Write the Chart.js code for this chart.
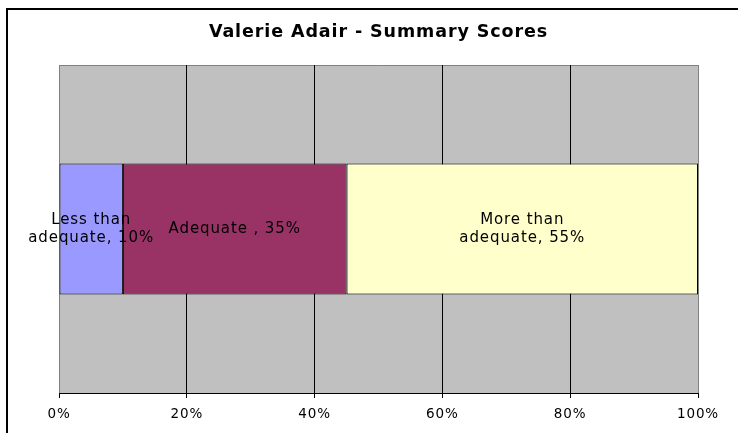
<!DOCTYPE html>
<html>
<head>
<meta charset="utf-8">
<script src="https://cdn.jsdelivr.net/npm/chart.js@4/dist/chart.umd.min.js"></script>
<style>
  html, body { margin: 0; padding: 0; background: #fff; }
  #wrap { position: relative; width: 738px; height: 433px; }
</style>
</head>
<body>
<div id="wrap"><canvas id="summaryChart" width="738" height="433"></canvas></div>
<script>
// chart data
var categories = ['Valerie Adair'];
var seriesNames = ['Less than\nadequate', 'Adequate ', 'More than\nadequate'];
var seriesValues = [10, 35, 55];
var seriesColors = ['#9999FF', '#993366', '#FFFFCC'];
var tickValues = [0, 20, 40, 60, 80, 100];

var datasets = seriesNames.map(function (name, i) {
    return {
        label: name,
        data: [seriesValues[i]],
        backgroundColor: seriesColors[i],
        borderColor: '#000000',
        borderWidth: 1,
        borderSkipped: false,
        categoryPercentage: 1.0,
        barPercentage: 0.4
    };
});

// grey plot background, outer frame and slightly wider letter spacing like the original
var plotBackground = {
    id: 'plotBackground',
    beforeDraw: function (chart) {
        var ctx = chart.ctx;
        var a = chart.chartArea;
        ctx.letterSpacing = '0.9px';
        ctx.save();
        ctx.fillStyle = '#000000';
        ctx.fillRect(6, 8, 2, 425);
        ctx.fillRect(6, 8, 732, 2);
        ctx.fillStyle = '#C0C0C0';
        ctx.fillRect(a.left, a.top, a.right - a.left, a.bottom - a.top);
        ctx.strokeStyle = '#808080';
        ctx.lineWidth = 1;
        ctx.beginPath();
        ctx.moveTo(a.left, a.top + 0.5);
        ctx.lineTo(a.right, a.top + 0.5);
        ctx.stroke();
        ctx.restore();
    }
};

// text inside each bar segment: "name, value%"
var segmentLabels = {
    id: 'segmentLabels',
    afterDatasetsDraw: function (chart) {
        var ctx = chart.ctx;
        ctx.save();
        ctx.font = '15px "DejaVu Sans"';
        ctx.fillStyle = '#000000';
        ctx.textAlign = 'center';
        ctx.textBaseline = 'middle';
        chart.data.datasets.forEach(function (ds, i) {
            var bar = chart.getDatasetMeta(i).data[0];
            var cx = (bar.x + bar.base) / 2;
            var lines = (seriesNames[i] + ', ' + seriesValues[i] + '%').split('\n');
            var lineH = 18;
            var y0 = bar.y - (lines.length - 1) * lineH / 2;
            lines.forEach(function (line, k) {
                ctx.fillText(line, cx, y0 + k * lineH);
            });
        });
        ctx.restore();
    }
};

var ctx = document.getElementById('summaryChart').getContext('2d');
var summaryChart = new Chart(ctx, {
    type: 'bar',
    data: {
        labels: categories,
        datasets: datasets
    },
    options: {
        indexAxis: 'y',
        responsive: false,
        animation: false,
        layout: {
            padding: { left: 59, right: 40, top: 0, bottom: 0 }
        },
        plugins: {
            legend: { display: false },
            tooltip: { enabled: false },
            title: {
                display: true,
                text: 'Valerie Adair - Summary Scores',
                color: '#000000',
                font: { family: 'DejaVu Sans', size: 17.5, weight: 'bold', lineHeight: 1.2 },
                padding: { top: 22, bottom: 22 }
            }
        },
        scales: {
            x: {
                type: 'linear',
                stacked: true,
                min: 0,
                max: 100,
                afterBuildTicks: function (scale) {
                    scale.ticks = tickValues.map(function (v) { return { value: v }; });
                },
                afterFit: function (scale) {
                    scale.height = 40;
                },
                ticks: {
                    color: '#000000',
                    font: { family: 'DejaVu Sans', size: 13.5 },
                    padding: 8,
                    maxRotation: 0,
                    callback: function (v) { return v + '%'; }
                },
                grid: {
                    color: function (c) {
                        return (c.index === 0 || c.index === tickValues.length - 1) ? '#808080' : '#000000';
                    },
                    tickColor: '#000000',
                    tickLength: 5,
                    lineWidth: 1
                },
                border: { display: true, color: '#000000', width: 1 }
            },
            y: {
                stacked: true,
                display: false
            }
        }
    },
    plugins: [plotBackground, segmentLabels]
});
</script>
</body>
</html>
